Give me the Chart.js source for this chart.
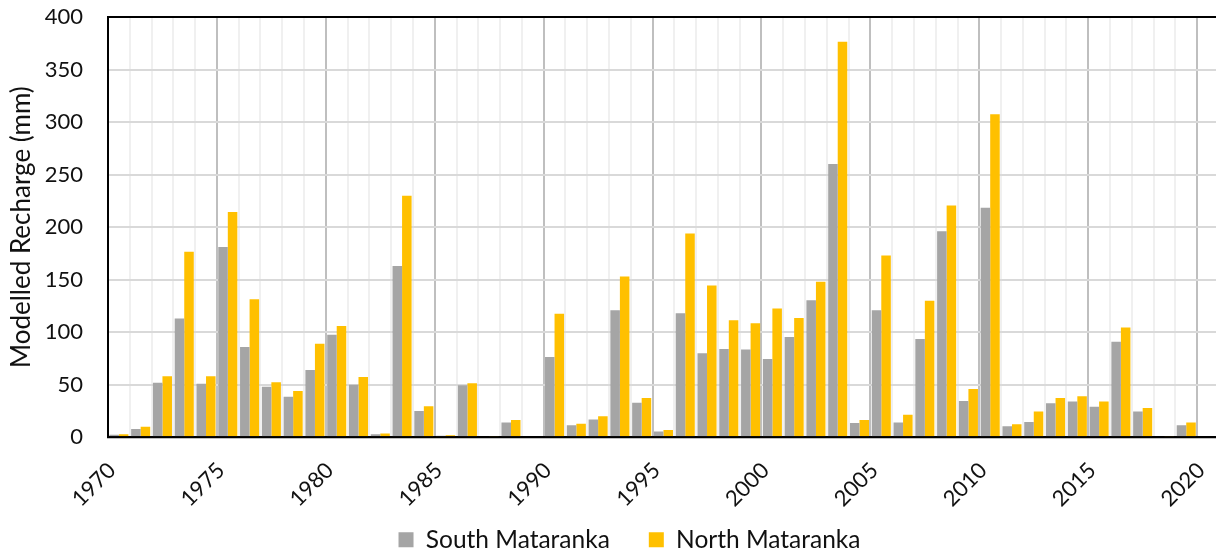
<!DOCTYPE html>
<html><head><meta charset="utf-8">
<script src="https://cdn.jsdelivr.net/npm/chart.js@4.4.0/dist/chart.umd.min.js"></script>
<style>
html,body{margin:0;padding:0;overflow:hidden;background:#fff;width:1216px;height:553px;}
#wrap{position:absolute;left:0;top:0;width:1259px;height:562px;}
</style></head><body>
<div id="wrap"><canvas id="c" width="1259" height="562"></canvas></div>
<script>
const years = [1970,1971,1972,1973,1974,1975,1976,1977,1978,1979,
               1980,1981,1982,1983,1984,1985,1986,1987,1988,1989,
               1990,1991,1992,1993,1994,1995,1996,1997,1998,1999,
               2000,2001,2002,2003,2004,2005,2006,2007,2008,2009,
               2010,2011,2012,2013,2014,2015,2016,2017,2018,2019];
const southMataranka = [2.5,8,52,113,51,181,86,48,38.5,64,
                        97.5,50,3,163,25,1.5,49.5,0,14,0,
                        76.5,11.5,17,121,33,5.5,118,80,84,83.5,
                        74.5,95.5,130.5,260,13.5,121,14,93.5,196,34.5,
                        218.5,10.5,14.5,32.5,34,29,91,24.5,1,11.5];
const northMataranka = [3,10,58,176.5,58,214.5,131.5,52.5,44,89,
                        106,57.5,3.5,230,29.5,2,51.5,0.8,16.5,0,
                        117.5,13,20,153,37.5,7,194,144.5,111.5,108.5,
                        122.5,113.5,148,376.5,16.5,173,21.5,130,220.5,46,
                        307.5,12.5,24.5,37.5,39,34,104.5,28,1.3,14];
const yTickValues = [0,50,100,150,200,250,300,350,400];
const xLabelYears = [1970,1975,1980,1985,1990,1995,2000,2005,2010,2015,2020];

const FONT = 'Lato, "Open Sans", sans-serif';
const TXT = '#111111';

const frameLines = {
  id: 'frameLines',
  afterDatasetsDraw(chart) {
    const {ctx, chartArea: a} = chart;
    ctx.save();
    ctx.strokeStyle = '#000';
    ctx.lineWidth = 2;
    ctx.beginPath();
    ctx.moveTo(a.left - 1, a.top);
    ctx.lineTo(a.right, a.top);
    ctx.moveTo(a.left - 1, a.bottom);
    ctx.lineTo(a.right, a.bottom);
    ctx.stroke();
    ctx.restore();
  }
};

new Chart(document.getElementById('c'), {
  type: 'bar',
  data: {
    datasets: [
      { label: 'South Mataranka', backgroundColor: '#A5A5A5',
        data: years.map((yr, i) => ({ x: yr + 0.5, y: southMataranka[i] })) },
      { label: 'North Mataranka', backgroundColor: '#FFC000',
        data: years.map((yr, i) => ({ x: yr + 0.5, y: northMataranka[i] })) }
    ]
  },
  options: {
    responsive: false,
    animation: false,
    devicePixelRatio: 1,
    layout: { padding: { top: 17, left: 0, right: 0, bottom: 0 } },
    datasets: { bar: { categoryPercentage: 0.875, barPercentage: 1 } },
    scales: {
      x: {
        type: 'linear', min: 1970, max: 2022.84, offset: false,
        ticks: {
          stepSize: 1, autoSkip: false, maxRotation: 45, minRotation: 45,
          padding: 20, labelOffset: 4,
          callback: (v) => xLabelYears.includes(v) ? String(v) : '',
          font: { family: FONT, size: 22 }, color: TXT
        },
        grid: {
          offset: false,
          color: (c) => (c.tick && c.tick.value % 5 === 0) ? '#bfbfbf' : '#f0f0f0',
          lineWidth: 2, drawTicks: false
        },
        border: { display: true, color: '#000', width: 2 },
        afterFit: (s) => {
          s.height = 51.2;
          s.paddingLeft = 0; s.paddingRight = 0;
          s._computeLabelArea = () => undefined;
        }
      },
      y: {
        min: 0, max: 400,
        afterBuildTicks: (s) => { s.ticks = yTickValues.map(v => ({ value: v })); },
        ticks: { padding: 0, font: { family: FONT, size: 22 }, color: TXT },
        grid: { color: '#d9d9d9', lineWidth: 2, drawTicks: true, tickLength: 25,
                tickColor: 'rgba(0,0,0,0)' },
        border: { display: true, color: '#000', width: 2 },
        title: { display: true, text: 'Modelled Recharge (mm)', color: TXT,
                 font: { family: FONT, size: 26 }, padding: { top: 6, bottom: 0 } },
        afterFit: (s) => { s.width = 108; }
      }
    },
    plugins: {
      legend: {
        position: 'bottom',
        labels: { boxWidth: 15, boxHeight: 15, padding: 39,
                  font: { family: FONT, size: 24.5 }, color: TXT }
      },
      tooltip: { enabled: false }
    }
  },
  plugins: [frameLines]
});
</script>
</body></html>
